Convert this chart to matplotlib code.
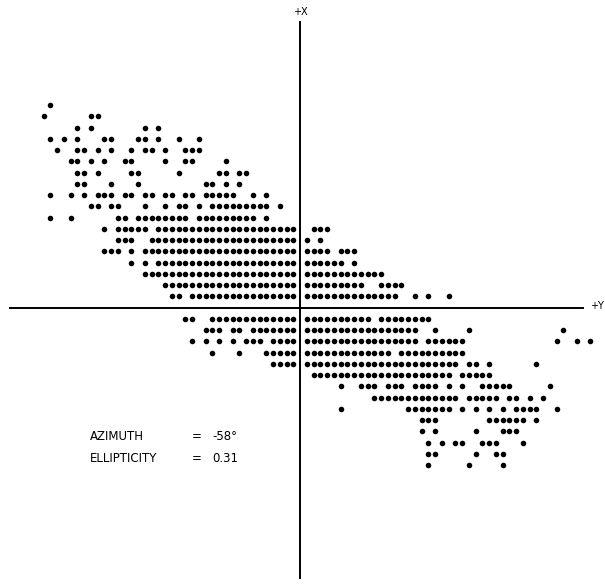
import matplotlib
matplotlib.use('Agg')
import matplotlib.pyplot as plt

# fila de la impresora (0 = eje Y) y columnas con punto; 'a..b' = columnas seguidas
filas = [18, 17, 16, 15, 14, 13, 12, 11, 10, 9, 8, 7, 6, 5, 4, 3, 2, 1,
         -1, -2, -3, -4, -5, -6, -7, -8, -9, -10, -11, -12, -13, -14]
columnas = [
    "-37",
    "-38,-31,-30",
    "-33,-31,-23,-21",
    "-37,-35,-33,-29,-28,-24,-23,-21,-18,-15",
    "-36,-33,-32,-30,-28,-25,-23,-22,-20,-17..-15",
    "-34,-33,-31,-29,-26,-25,-20,-17,-16,-11",
    "-33,-32,-30,-25,-24,-18,-12,-11,-9,-8",
    "-33,-32,-28,-24,-14,-13,-11,-9",
    "-37,-34,-32,-30..-28,-26,-25,-23,-22,-20,-19,-17,-16,-14..-10,-7,-5",
    "-31,-30,-28,-27,-23,-20,-18,-17,-15,-13..-5,-3",
    "-37,-34,-27,-26,-24..-17,-15..-7,-5",
    "-29,-27..-23,-21..-1,2..4",
    "-27..-25,-22..-1,1,3",
    "-29..-27,-25,-23..-1,1..4,6..8",
    "-25,-23,-21..-1,1..6,8",
    "-23..-1,1..12",
    "-20..-1,1..9,12..15",
    "-19,-18,-16..-1,1..14,17,19,22",
    "-17,-16,-13..-1,1..10,12..19",
    "-14..-12,-10,-9,-7..-1,1..17,20,25,39",
    "-16,-14,-12,-10,-8..-6,-4..-1,1..17,19..24,38,41,43",
    "-13,-9,-5..-1,1..13,15..24",
    "-4..-1,1..23,25,26,28,35",
    "2..22,24..28",
    "6,9..11,13..15,17..20,22,24,27..31,37",
    "11..23,25..29,31,32,34,36",
    "6,16..22,24,26,28,30,32..35,38",
    "18..20,28..33,35",
    "18,20,26,30..32",
    "19,21,23,24,27..29,33",
    "19,20,26,29,30",
    "19,25,30",
]

etiquetas = ["AZIMUTH", "ELLIPTICITY"]
valores = ["-58\u00b0", "0.31"]

# tamano de una celda de impresora en pixeles
dx = 6.75
dy = 11.25
W, H = 605, 588
x0, y0 = 300, 307.5


def expandir(texto):
    cols = []
    for parte in texto.split(','):
        if '..' in parte:
            a, b = parte.split('..')
            cols += list(range(int(a), int(b) + 1))
        else:
            cols.append(int(parte))
    return cols


xs = []
ys = []
for fila, texto in zip(filas, columnas):
    for c in expandir(texto):
        xs.append(c)
        ys.append(fila)

fig = plt.figure(figsize=(W / 100, H / 100), dpi=100)
ax = fig.add_axes([0, 0, 1, 1])
ax.set_xlim(-x0 / dx, (W - x0) / dx)
ax.set_ylim(-(H - y0) / dy, y0 / dy)
ax.axis('off')

# ejes
ax.plot([0, 0], [(y0 - 22) / dy, (y0 - 578) / dy], color='black', lw=1.4)
ax.plot([(10 - x0) / dx, (583 - x0) / dx], [0, 0], color='black', lw=1.4)

ax.scatter(xs, ys, s=16, c='black', linewidths=0)

fig.text(300 / W, 1 - 12 / H, '+X', ha='center', va='center', fontsize=7)
fig.text(604 / W, 1 - 306 / H, '+Y', ha='right', va='center', fontsize=7)

for i, (et, val) in enumerate(zip(etiquetas, valores)):
    yt = 1 - (437 + i * 22) / H
    fig.text(90 / W, yt, et, ha='left', va='center', fontsize=8.5)
    fig.text(197 / W, yt, '=', ha='center', va='center', fontsize=8.5)
    fig.text(212 / W, yt, val, ha='left', va='center', fontsize=8.5)

fig.savefig('out.png', dpi=100)
